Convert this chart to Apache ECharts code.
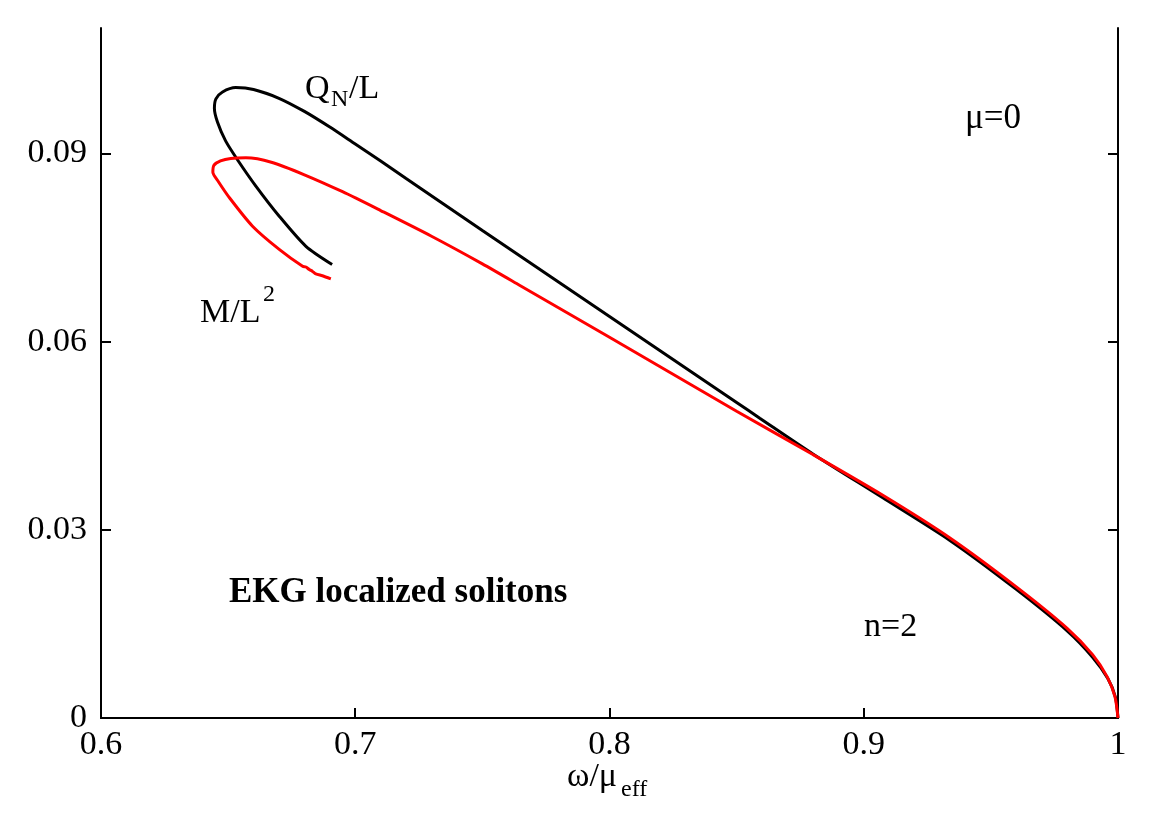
<!DOCTYPE html>
<html lang="en">
<head>
  <meta charset="UTF-8">
  <script src="https://cdn.jsdelivr.net/npm/echarts@6/dist/echarts.min.js"></script>
  <title>EKG localized solitons</title>
  <style>
    html, body { margin: 0; padding: 0; background: #fff; }
  </style>
</head>
<body>
  <div id="chart" style="width: 1163px;height:814px;"></div>

  <script>
    // Q_N/L curve (black): [omega/mu_eff, value]
    var chargeData = [
      [0.6909, 0.0723], [0.6806, 0.0752], [0.6701, 0.0800], [0.6609, 0.0848],
      [0.6540, 0.0888], [0.6490, 0.0920], [0.6458, 0.0950], [0.6446, 0.0972],
      [0.6452, 0.0987], [0.6478, 0.0998], [0.6530, 0.1005], [0.6600, 0.1002],
      [0.6700, 0.0988], [0.6800, 0.0967], [0.6900, 0.0942], [0.7000, 0.0915],
      [0.7100, 0.0888], [0.7200, 0.0860], [0.7500, 0.0777], [0.8000, 0.0640],
      [0.8500, 0.0503], [0.8591, 0.0478], [0.8800, 0.0421], [0.9075, 0.0351],
      [0.9339, 0.0283], [0.9600, 0.0205], [0.9800, 0.0139], [0.9900, 0.0097],
      [0.9960, 0.0063], [0.9990, 0.0033], [1.0, 0]
    ];

    // M/L^2 curve (red)
    var massData = [
      [0.6904, 0.0700], [0.6871, 0.0705], [0.6845, 0.0708], [0.6832, 0.0712],
      [0.6819, 0.0715], [0.6806, 0.0719], [0.6793, 0.0720], [0.6701, 0.0747],
      [0.6596, 0.0784], [0.6504, 0.0830], [0.6460, 0.0856], [0.6440, 0.0870],
      [0.6444, 0.0881], [0.6470, 0.0888], [0.6510, 0.0892], [0.6570, 0.0893],
      [0.6670, 0.0886], [0.6800, 0.0866], [0.6950, 0.0839], [0.7100, 0.0809],
      [0.7300, 0.0768], [0.7500, 0.0724], [0.7646, 0.0690], [0.8000, 0.0607],
      [0.8500, 0.0489], [0.8800, 0.0420], [0.9075, 0.0355], [0.9339, 0.0287],
      [0.9600, 0.0209], [0.9800, 0.0143], [0.9900, 0.0101], [0.9957, 0.0066],
      [0.9988, 0.0034], [1.0, 0]
    ];

    var xTicks = [0.6, 0.7, 0.8, 0.9, 1];
    var yTicks = [0, 0.03, 0.06, 0.09];

    var font = 'Liberation Serif';

    var chartDom = document.getElementById('chart');
    var myChart = echarts.init(chartDom);

    // inner ticks only, corners are drawn by the frame
    var xInner = xTicks.slice(1, -1);
    var yInner = yTicks.slice(1);

    var lineStyle = { color: '#000', width: 2 };

    var options = {
      animation: false,
      grid: { left: 101, right: 45, top: 28, bottom: 96 },
      xAxis: [
        {
          type: 'value', min: 0.6, max: 1, interval: 0.1,
          axisLine: { lineStyle: lineStyle },
          axisTick: { inside: true, length: 10, lineStyle: lineStyle, customValues: xInner },
          axisLabel: {
            color: '#000', fontFamily: font, fontSize: 34, margin: 10,
            customValues: xTicks,
            formatter: function (v) { return String(v); }
          },
          splitLine: { show: false }
        },
        {
          type: 'value', min: 0.6, max: 1, interval: 0.1, position: 'top',
          axisLine: { lineStyle: lineStyle },
          axisTick: { show: false },
          axisLabel: { show: false },
          splitLine: { show: false }
        }
      ],
      yAxis: [
        {
          type: 'value', min: 0, max: 0.11, interval: 0.03,
          axisLine: { lineStyle: lineStyle },
          axisTick: { inside: true, length: 10, lineStyle: lineStyle, customValues: yInner },
          axisLabel: {
            color: '#000', fontFamily: font, fontSize: 34, margin: 14,
            customValues: yTicks,
            formatter: function (v) { return String(v); }
          },
          splitLine: { show: false }
        },
        {
          type: 'value', min: 0, max: 0.11, interval: 0.03, position: 'right',
          axisLine: { lineStyle: lineStyle },
          axisTick: { inside: true, length: 10, lineStyle: lineStyle, customValues: yInner },
          axisLabel: { show: false },
          splitLine: { show: false }
        }
      ],
      series: [
        {
          name: 'Q_N/L', type: 'line', data: chargeData,
          showSymbol: false, smooth: 0.25,
          lineStyle: { color: '#000', width: 3 }
        },
        {
          name: 'M/L^2', type: 'line', data: massData,
          showSymbol: false, smooth: 0.25,
          lineStyle: { color: '#ff0000', width: 3 }
        }
      ],
      graphic: [
        // Q_N/L
        { type: 'text', left: 305, top: 72, style: { text: 'Q', font: '34px "Liberation Serif"', fill: '#000' } },
        { type: 'text', left: 331, top: 88, style: { text: 'N', font: '24px "Liberation Serif"', fill: '#000' } },
        { type: 'text', left: 349, top: 72, style: { text: '/L', font: '34px "Liberation Serif"', fill: '#000' } },
        // M/L^2
        { type: 'text', left: 200, top: 296, style: { text: 'M/L', font: '34px "Liberation Serif"', fill: '#000' } },
        { type: 'text', left: 263, top: 283, style: { text: '2', font: '24px "Liberation Serif"', fill: '#000' } },
        // mu=0, n=2
        { type: 'text', left: 965, top: 101, style: { text: 'μ=0', font: '35px "Liberation Serif"', fill: '#000' } },
        { type: 'text', left: 864, top: 610, style: { text: 'n=2', font: '34px "Liberation Serif"', fill: '#000' } },
        // title inside plot
        { type: 'text', left: 229, top: 575, style: { text: 'EKG localized solitons', font: 'bold 35px "Liberation Serif"', fill: '#000' } },
        // x axis name
        { type: 'text', left: 567, top: 760, style: { text: 'ω/μ', font: '34px "Liberation Serif"', fill: '#000' } },
        { type: 'text', left: 621, top: 778, style: { text: 'eff', font: '24px "Liberation Serif"', fill: '#000' } }
      ]
    };

    myChart.setOption(options);
  </script>
</body>
</html>
